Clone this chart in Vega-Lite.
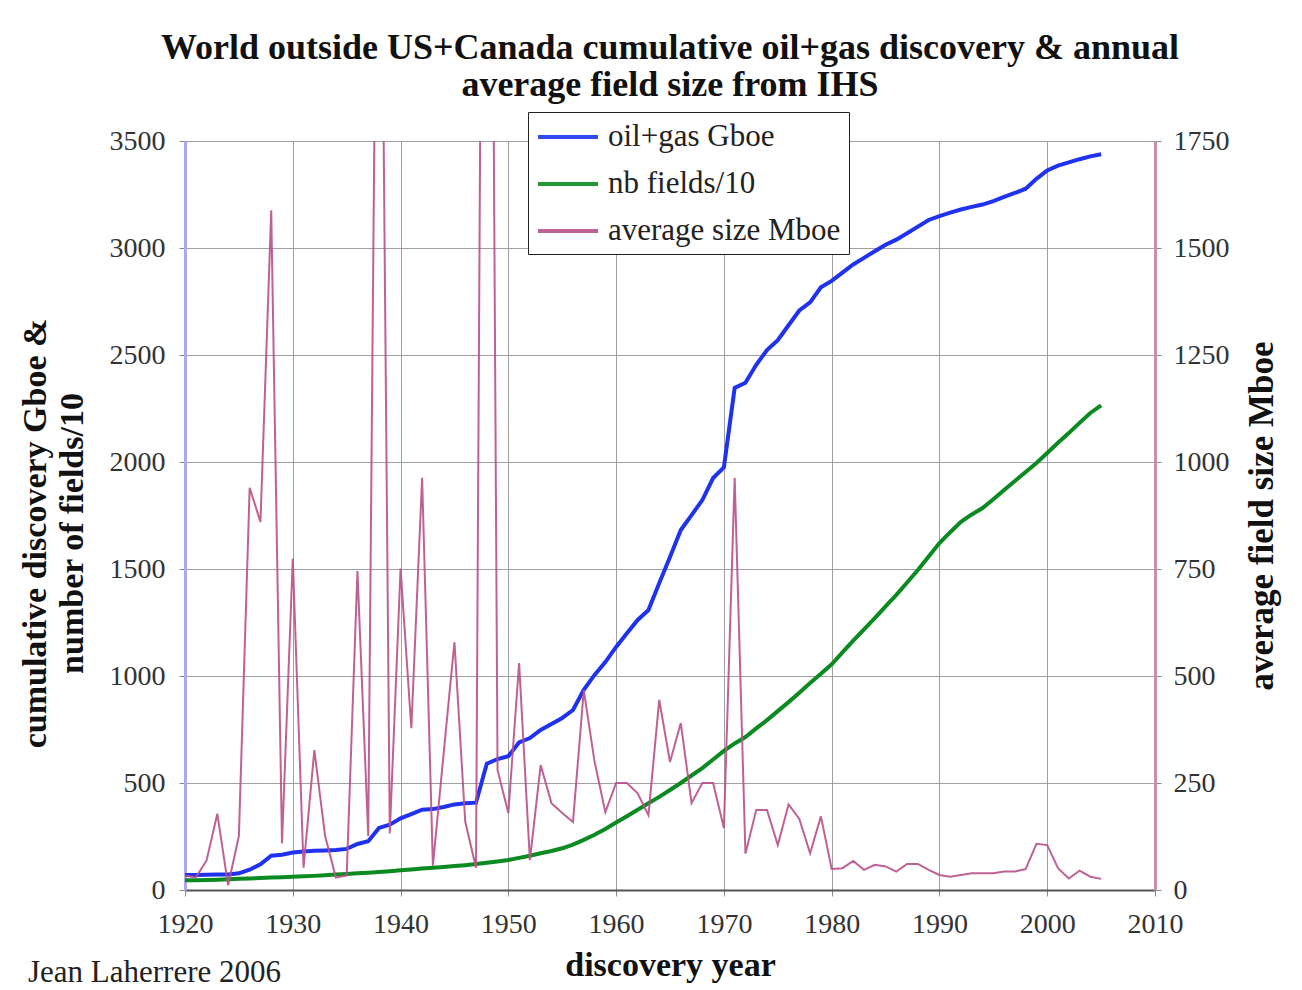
{
  "$schema": "https://vega.github.io/schema/vega-lite/v6.json",
  "width": 970,
  "height": 749,
  "autosize": "none",
  "padding": {"left": 185, "top": 141, "right": 147, "bottom": 100},
  "background": "white",
  "config": {
    "font": "Liberation Serif",
    "view": {"stroke": null},
    "axis": {"labelColor": "#333333", "labelFontSize": 28, "titleFontSize": 34, "titleFontWeight": "bold", "titleColor": "#111111", "gridColor": "#a0a0a0", "gridWidth": 1, "tickColor": "#888888", "labelFlush": false}
  },
  "title": {
    "text": ["World outside US+Canada cumulative oil+gas discovery & annual", "average field size from IHS"],
    "fontSize": 36, "fontWeight": "bold", "font": "Liberation Serif", "color": "#111111",
    "anchor": "middle", "lineHeight": 37, "frame": "group", "offset": 8
  },
  "datasets": {
    "d": [
      {"y":1920,"g":70,"f":45,"s":34},{"y":1921,"g":70,"f":46,"s":29},{"y":1922,"g":71,"f":47,"s":69},{"y":1923,"g":72,"f":48,"s":178},
      {"y":1924,"g":73,"f":50,"s":11},{"y":1925,"g":78,"f":52,"s":126},{"y":1926,"g":95,"f":54,"s":940},{"y":1927,"g":120,"f":56,"s":860},
      {"y":1928,"g":160,"f":58,"s":1588},{"y":1929,"g":165,"f":60,"s":109},{"y":1930,"g":175,"f":62,"s":774},{"y":1931,"g":180,"f":64,"s":52},
      {"y":1932,"g":183,"f":66,"s":327},{"y":1933,"g":185,"f":69,"s":126},{"y":1934,"g":187,"f":72,"s":29},{"y":1935,"g":192,"f":75,"s":34},
      {"y":1936,"g":215,"f":78,"s":745},{"y":1937,"g":228,"f":81,"s":126},{"y":1938,"g":290,"f":84,"s":3000},{"y":1939,"g":305,"f":88,"s":132},
      {"y":1940,"g":335,"f":92,"s":751},{"y":1941,"g":355,"f":96,"s":378},{"y":1942,"g":375,"f":100,"s":963},{"y":1943,"g":378,"f":104,"s":57},
      {"y":1944,"g":388,"f":108,"s":320},{"y":1945,"g":400,"f":112,"s":579},{"y":1946,"g":405,"f":116,"s":160},{"y":1947,"g":408,"f":121,"s":52},
      {"y":1948,"g":590,"f":127,"s":4500},{"y":1949,"g":612,"f":133,"s":280},{"y":1950,"g":625,"f":140,"s":180},{"y":1951,"g":690,"f":150,"s":530},
      {"y":1952,"g":710,"f":160,"s":70},{"y":1953,"g":748,"f":172,"s":292},{"y":1954,"g":776,"f":182,"s":203},{"y":1955,"g":804,"f":195,"s":180},
      {"y":1956,"g":841,"f":212,"s":159},{"y":1957,"g":935,"f":234,"s":467},{"y":1958,"g":1005,"f":258,"s":300},{"y":1959,"g":1065,"f":285,"s":182},
      {"y":1960,"g":1136,"f":315,"s":250},{"y":1961,"g":1200,"f":345,"s":250},{"y":1962,"g":1262,"f":375,"s":226},{"y":1963,"g":1308,"f":405,"s":175},
      {"y":1964,"g":1434,"f":435,"s":444},{"y":1965,"g":1556,"f":467,"s":299},{"y":1966,"g":1682,"f":500,"s":390},{"y":1967,"g":1752,"f":535,"s":203},
      {"y":1968,"g":1822,"f":570,"s":250},{"y":1969,"g":1925,"f":610,"s":250},{"y":1970,"g":1975,"f":650,"s":145},{"y":1971,"g":2346,"f":685,"s":963},
      {"y":1972,"g":2370,"f":715,"s":85},{"y":1973,"g":2454,"f":755,"s":187},{"y":1974,"g":2523,"f":794,"s":187},{"y":1975,"g":2569,"f":836,"s":105},
      {"y":1976,"g":2639,"f":878,"s":200},{"y":1977,"g":2708,"f":922,"s":166},{"y":1978,"g":2746,"f":967,"s":86},{"y":1979,"g":2816,"f":1010,"s":172},
      {"y":1980,"g":2846,"f":1055,"s":49},{"y":1981,"g":2885,"f":1110,"s":51},{"y":1982,"g":2923,"f":1165,"s":68},{"y":1983,"g":2954,"f":1218,"s":47},
      {"y":1984,"g":2985,"f":1271,"s":59},{"y":1985,"g":3015,"f":1325,"s":55},{"y":1986,"g":3039,"f":1379,"s":43},{"y":1987,"g":3069,"f":1437,"s":61},
      {"y":1988,"g":3100,"f":1495,"s":61},{"y":1989,"g":3131,"f":1558,"s":47},{"y":1990,"g":3149,"f":1621,"s":35},{"y":1991,"g":3165,"f":1672,"s":31},
      {"y":1992,"g":3180,"f":1720,"s":35},{"y":1993,"g":3192,"f":1755,"s":39},{"y":1994,"g":3203,"f":1785,"s":39},{"y":1995,"g":3219,"f":1826,"s":39},
      {"y":1996,"g":3239,"f":1869,"s":43},{"y":1997,"g":3257,"f":1911,"s":43},{"y":1998,"g":3277,"f":1953,"s":49},{"y":1999,"g":3323,"f":1995,"s":108},
      {"y":2000,"g":3362,"f":2042,"s":105},{"y":2001,"g":3385,"f":2090,"s":51},{"y":2002,"g":3400,"f":2135,"s":27},{"y":2003,"g":3415,"f":2183,"s":45},
      {"y":2004,"g":3428,"f":2229,"s":31},{"y":2005,"g":3438,"f":2265,"s":26}
    ],
    "credit": [{"yr": 1920, "v0": 0, "t": "Jean Laherrere 2006"}]
  },
  "layer": [
    {
      "layer": [
        {
          "data": {"name": "d"},
          "transform": [{"fold": ["g", "f"], "as": ["k", "v"]}],
          "mark": {"type": "line", "strokeWidth": 4, "clip": true},
          "encoding": {
            "x": {
              "field": "y", "type": "quantitative",
              "scale": {"domain": [1920, 2010], "nice": false, "zero": false},
              "axis": {
                "title": "discovery year", "values": [1920,1930,1940,1950,1960,1970,1980,1990,2000,2010],
                "format": "d", "grid": true, "labelPadding": 14, "titlePadding": 10,
                "domainColor": "#555555", "domainWidth": 2, "tickSize": 6
              }
            },
            "y": {
              "field": "v", "type": "quantitative",
              "scale": {"domain": [0, 3500], "nice": false},
              "axis": {
                "title": ["cumulative discovery Gboe &", "number of fields/10"],
                "values": [0,500,1000,1500,2000,2500,3000,3500], "format": "d",
                "grid": true, "labelPadding": 14, "titlePadding": 20, "titleLineHeight": 37, "titleY": 392,
                "domainColor": "#aaaaee", "domainWidth": 3, "tickSize": 6
              }
            },
            "color": {
              "field": "k", "type": "nominal",
              "scale": {"domain": ["g", "f", "s"], "range": ["#1f32f0", "#0c8a22", "#b8508a"]},
              "legend": {
                "title": null, "orient": "none", "legendX": 343, "legendY": -29,
                "labelExpr": "datum.label == 'g' ? 'oil+gas Gboe' : datum.label == 'f' ? 'nb fields/10' : 'average size Mboe'",
                "labelFontSize": 31, "labelColor": "#222222", "labelFont": "Liberation Serif", "labelLimit": 0,
                "symbolType": "M-1,0H3", "symbolSize": 900, "symbolStrokeWidth": 4,
                "rowPadding": 15, "labelOffset": 38,
                "strokeColor": "#222222", "fillColor": "white", "padding": 8
              }
            }
          }
        },
        {
          "data": {"name": "credit"},
          "mark": {"type": "text", "align": "left", "baseline": "middle", "dx": -157, "dy": 83, "fontSize": 31, "color": "#222222", "font": "Liberation Serif"},
          "encoding": {
            "x": {"field": "yr", "type": "quantitative"},
            "y": {"field": "v0", "type": "quantitative"},
            "text": {"field": "t"}
          }
        }
      ]
    },
    {
      "data": {"name": "d"},
      "transform": [{"fold": ["s"], "as": ["k", "v"]}],
      "mark": {"type": "line", "strokeWidth": 2, "clip": true, "opacity": 0.9},
      "encoding": {
        "x": {"field": "y", "type": "quantitative"},
        "y": {
          "field": "v", "type": "quantitative",
          "scale": {"domain": [0, 1750], "nice": false},
          "axis": {
            "orient": "right", "title": "average field size Mboe", "titleAngle": -90, "titleFontSize": 35,
            "values": [0,250,500,750,1000,1250,1500,1750], "format": "d",
            "grid": false, "labelPadding": 12, "titlePadding": 50,
            "domainColor": "#c890b0", "domainWidth": 3, "tickSize": 6
          }
        },
        "color": {"field": "k", "type": "nominal"}
      }
    }
  ],
  "resolve": {"scale": {"y": "independent"}}
}
